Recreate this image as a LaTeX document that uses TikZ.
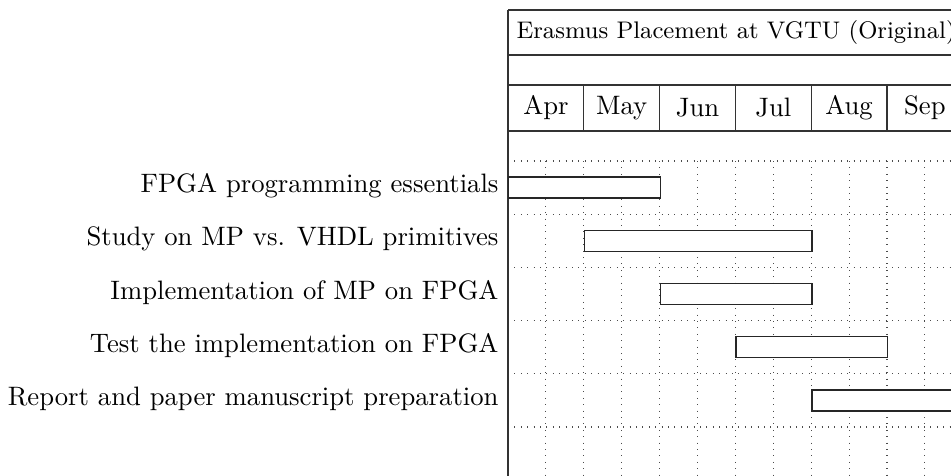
\documentclass[tikz,border=0pt]{standalone}
\begin{document}
\begin{tikzpicture}[x=0.375pt,y=-0.375pt,
  frame/.style={draw=black!80,line width=0.5pt},
  gridline/.style={draw=black!70,line width=0.4pt,dotted},
  bar/.style={draw=black!85,fill=white,line width=0.5pt,minimum height=21*0.375pt,inner sep=0pt,anchor=west},
  tasklabel/.style={anchor=east,inner sep=0pt,font=\fontsize{10}{12}\selectfont},
  month/.style={anchor=center,font=\fontsize{10}{12}\selectfont}]
\useasboundingbox (0,0) rectangle (951,475);
\begin{scope}
\clip (0,0) rectangle (951,475);
% grid
\foreach \k in {1,...,12} \draw[gridline] (508+37.9*\k,161) -- (508+37.9*\k,480);
\foreach \j in {0,...,5} \draw[gridline] (508,161+53.2*\j) -- (960,161+53.2*\j);
% frame
\draw[frame] (508,10) -- (970,10);
\draw[frame] (508,55) -- (970,55);
\draw[frame] (508,85) -- (970,85);
\draw[frame] (508,131) -- (970,131);
\draw[frame] (508,10) -- (508,480);
\foreach \m in {1,...,5} \draw[frame] (508+75.8*\m,85) -- (508+75.8*\m,131);
% title
\node[anchor=west,inner sep=0pt,font=\fontsize{9}{11}\selectfont] (title) at (516,32.5) {Erasmus Placement at VGTU (Original)};
% months
\node[month] (apr) at (508+75.8*0.5,108) {Apr};
\node[month] (may) at (508+75.8*1.5,108) {May};
\node[month] (jun) at (508+75.8*2.5,108) {Jun};
\node[month] (jul) at (508+75.8*3.5,108) {Jul};
\node[month] (aug) at (508+75.8*4.5,108) {Aug};
\node[month] (sep) at (508+75.8*5.5,108) {Sep};
% bars
\node[bar,minimum width=151.6*0.375pt] (b1) at (508,187.6) {};
\node[bar,minimum width=227.4*0.375pt] (b2) at (583.8,240.8) {};
\node[bar,minimum width=151.6*0.375pt] (b3) at (659.6,294) {};
\node[bar,minimum width=151.6*0.375pt] (b4) at (735.4,347.2) {};
\node[bar,minimum width=151.6*0.375pt] (b5) at (811.2,400.4) {};
\end{scope}
% labels
\node[tasklabel] (l1) at (499,186) {FPGA programming essentials};
\node[tasklabel] (l2) at (499,239.2) {Study on MP vs. VHDL primitives};
\node[tasklabel] (l3) at (499,292.4) {Implementation of MP on FPGA};
\node[tasklabel] (l4) at (499,345.6) {Test the implementation on FPGA};
\node[tasklabel] (l5) at (499,398.8) {Report and paper manuscript preparation};
\end{tikzpicture}
\end{document}
